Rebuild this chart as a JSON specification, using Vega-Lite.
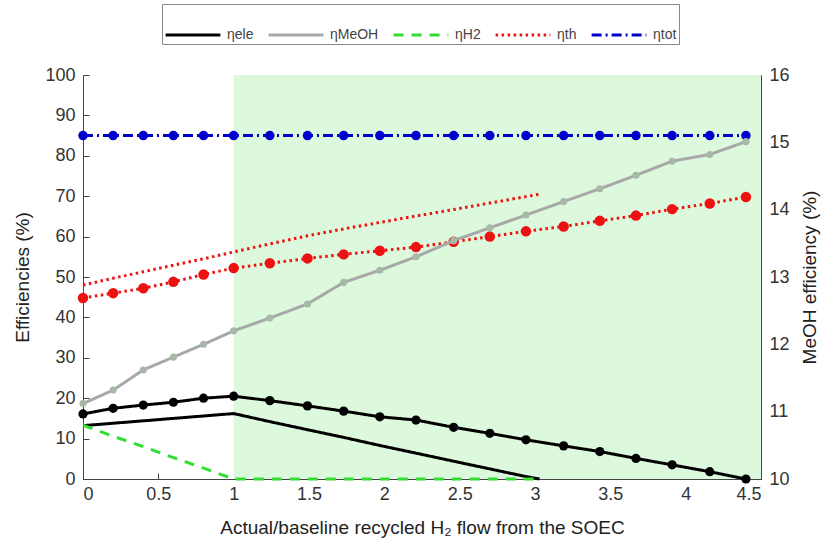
{
  "$schema": "https://vega.github.io/schema/vega-lite/v6.json",
  "width": 678,
  "height": 404,
  "autosize": {"type": "none"},
  "padding": {"left": 83, "top": 75, "right": 66, "bottom": 69},
  "background": "white",
  "config": {
    "view": {"stroke": null},
    "font": "Liberation Sans",
    "axis": {
      "grid": false,
      "labelFont": "Liberation Sans",
      "titleFont": "Liberation Sans",
      "labelFontSize": 18,
      "titleFontSize": 19,
      "titleFontWeight": "normal",
      "labelColor": "#333333",
      "titleColor": "#222222",
      "domainColor": "#444444",
      "tickColor": "#444444",
      "tickSize": -6,
      "labelPadding": 14
    },
    "legend": {
      "labelFont": "Liberation Sans",
      "labelFontSize": 14,
      "labelColor": "#444444"
    }
  },
  "datasets": {
    "left": [
      {"s": "ηele", "m": 1, "x": 0, "y": 16.1},
      {"s": "ηele", "m": 1, "x": 0.2, "y": 17.5},
      {"s": "ηele", "m": 1, "x": 0.4, "y": 18.3},
      {"s": "ηele", "m": 1, "x": 0.6, "y": 19.0},
      {"s": "ηele", "m": 1, "x": 0.8, "y": 20.0},
      {"s": "ηele", "m": 1, "x": 1, "y": 20.5},
      {"s": "ηele", "m": 1, "x": 1.24, "y": 19.4},
      {"s": "ηele", "m": 1, "x": 1.49, "y": 18.1},
      {"s": "ηele", "m": 1, "x": 1.73, "y": 16.8},
      {"s": "ηele", "m": 1, "x": 1.97, "y": 15.4},
      {"s": "ηele", "m": 1, "x": 2.21, "y": 14.6},
      {"s": "ηele", "m": 1, "x": 2.46, "y": 12.8},
      {"s": "ηele", "m": 1, "x": 2.7, "y": 11.3},
      {"s": "ηele", "m": 1, "x": 2.94, "y": 9.7},
      {"s": "ηele", "m": 1, "x": 3.19, "y": 8.2},
      {"s": "ηele", "m": 1, "x": 3.43, "y": 6.8},
      {"s": "ηele", "m": 1, "x": 3.67, "y": 5.1},
      {"s": "ηele", "m": 1, "x": 3.91, "y": 3.5},
      {"s": "ηele", "m": 1, "x": 4.16, "y": 1.8},
      {"s": "ηele", "m": 1, "x": 4.4, "y": 0},
      {"s": "ηele", "m": 0, "x": 0, "y": 13.2},
      {"s": "ηele", "m": 0, "x": 0.2, "y": 13.8},
      {"s": "ηele", "m": 0, "x": 0.4, "y": 14.4},
      {"s": "ηele", "m": 0, "x": 0.6, "y": 15.0},
      {"s": "ηele", "m": 0, "x": 0.8, "y": 15.6},
      {"s": "ηele", "m": 0, "x": 1, "y": 16.2},
      {"s": "ηele", "m": 0, "x": 1.24, "y": 14.2},
      {"s": "ηele", "m": 0, "x": 1.49, "y": 12.2},
      {"s": "ηele", "m": 0, "x": 1.73, "y": 10.3},
      {"s": "ηele", "m": 0, "x": 1.97, "y": 8.3},
      {"s": "ηele", "m": 0, "x": 2.21, "y": 6.4},
      {"s": "ηele", "m": 0, "x": 2.46, "y": 4.4},
      {"s": "ηele", "m": 0, "x": 2.7, "y": 2.5},
      {"s": "ηele", "m": 0, "x": 2.94, "y": 0.6},
      {"s": "ηele", "m": 0, "x": 3.03, "y": 0},
      {"s": "ηH2", "m": 0, "x": 0, "y": 13.3},
      {"s": "ηH2", "m": 0, "x": 0.2, "y": 10.6},
      {"s": "ηH2", "m": 0, "x": 0.4, "y": 8.0},
      {"s": "ηH2", "m": 0, "x": 0.6, "y": 5.3},
      {"s": "ηH2", "m": 0, "x": 0.8, "y": 2.7},
      {"s": "ηH2", "m": 0, "x": 1, "y": 0},
      {"s": "ηH2", "m": 0, "x": 1.24, "y": 0},
      {"s": "ηH2", "m": 0, "x": 1.49, "y": 0},
      {"s": "ηH2", "m": 0, "x": 1.73, "y": 0},
      {"s": "ηH2", "m": 0, "x": 1.97, "y": 0},
      {"s": "ηH2", "m": 0, "x": 2.21, "y": 0},
      {"s": "ηH2", "m": 0, "x": 2.46, "y": 0},
      {"s": "ηH2", "m": 0, "x": 2.7, "y": 0},
      {"s": "ηH2", "m": 0, "x": 2.94, "y": 0},
      {"s": "ηH2", "m": 0, "x": 3.03, "y": 0},
      {"s": "ηth", "m": 1, "x": 0, "y": 44.8},
      {"s": "ηth", "m": 1, "x": 0.2, "y": 46.0},
      {"s": "ηth", "m": 1, "x": 0.4, "y": 47.2},
      {"s": "ηth", "m": 1, "x": 0.6, "y": 48.8},
      {"s": "ηth", "m": 1, "x": 0.8, "y": 50.6},
      {"s": "ηth", "m": 1, "x": 1, "y": 52.2},
      {"s": "ηth", "m": 1, "x": 1.24, "y": 53.4},
      {"s": "ηth", "m": 1, "x": 1.49, "y": 54.6},
      {"s": "ηth", "m": 1, "x": 1.73, "y": 55.6},
      {"s": "ηth", "m": 1, "x": 1.97, "y": 56.5},
      {"s": "ηth", "m": 1, "x": 2.21, "y": 57.4},
      {"s": "ηth", "m": 1, "x": 2.46, "y": 58.7},
      {"s": "ηth", "m": 1, "x": 2.7, "y": 60.0},
      {"s": "ηth", "m": 1, "x": 2.94, "y": 61.3},
      {"s": "ηth", "m": 1, "x": 3.19, "y": 62.5},
      {"s": "ηth", "m": 1, "x": 3.43, "y": 63.9},
      {"s": "ηth", "m": 1, "x": 3.67, "y": 65.2},
      {"s": "ηth", "m": 1, "x": 3.91, "y": 66.8},
      {"s": "ηth", "m": 1, "x": 4.16, "y": 68.2},
      {"s": "ηth", "m": 1, "x": 4.4, "y": 69.8},
      {"s": "ηth", "m": 0, "x": 0, "y": 48.0},
      {"s": "ηth", "m": 0, "x": 0.2, "y": 49.7},
      {"s": "ηth", "m": 0, "x": 0.4, "y": 51.3},
      {"s": "ηth", "m": 0, "x": 0.6, "y": 52.9},
      {"s": "ηth", "m": 0, "x": 0.8, "y": 54.5},
      {"s": "ηth", "m": 0, "x": 1, "y": 56.2},
      {"s": "ηth", "m": 0, "x": 1.24, "y": 58.2},
      {"s": "ηth", "m": 0, "x": 1.49, "y": 60.2},
      {"s": "ηth", "m": 0, "x": 1.73, "y": 61.9},
      {"s": "ηth", "m": 0, "x": 1.97, "y": 63.5},
      {"s": "ηth", "m": 0, "x": 2.21, "y": 65.1},
      {"s": "ηth", "m": 0, "x": 2.46, "y": 66.7},
      {"s": "ηth", "m": 0, "x": 2.7, "y": 68.3},
      {"s": "ηth", "m": 0, "x": 2.94, "y": 69.9},
      {"s": "ηth", "m": 0, "x": 3.03, "y": 70.5},
      {"s": "ηtot", "m": 1, "x": 0, "y": 85},
      {"s": "ηtot", "m": 1, "x": 0.2, "y": 85},
      {"s": "ηtot", "m": 1, "x": 0.4, "y": 85},
      {"s": "ηtot", "m": 1, "x": 0.6, "y": 85},
      {"s": "ηtot", "m": 1, "x": 0.8, "y": 85},
      {"s": "ηtot", "m": 1, "x": 1, "y": 85},
      {"s": "ηtot", "m": 1, "x": 1.24, "y": 85},
      {"s": "ηtot", "m": 1, "x": 1.49, "y": 85},
      {"s": "ηtot", "m": 1, "x": 1.73, "y": 85},
      {"s": "ηtot", "m": 1, "x": 1.97, "y": 85},
      {"s": "ηtot", "m": 1, "x": 2.21, "y": 85},
      {"s": "ηtot", "m": 1, "x": 2.46, "y": 85},
      {"s": "ηtot", "m": 1, "x": 2.7, "y": 85},
      {"s": "ηtot", "m": 1, "x": 2.94, "y": 85},
      {"s": "ηtot", "m": 1, "x": 3.19, "y": 85},
      {"s": "ηtot", "m": 1, "x": 3.43, "y": 85},
      {"s": "ηtot", "m": 1, "x": 3.67, "y": 85},
      {"s": "ηtot", "m": 1, "x": 3.91, "y": 85},
      {"s": "ηtot", "m": 1, "x": 4.16, "y": 85},
      {"s": "ηtot", "m": 1, "x": 4.4, "y": 85}
    ],
    "meoh": [
      {"s": "ηMeOH", "x": 0, "y": 11.12},
      {"s": "ηMeOH", "x": 0.2, "y": 11.32},
      {"s": "ηMeOH", "x": 0.4, "y": 11.62},
      {"s": "ηMeOH", "x": 0.6, "y": 11.81},
      {"s": "ηMeOH", "x": 0.8, "y": 12.0},
      {"s": "ηMeOH", "x": 1, "y": 12.2},
      {"s": "ηMeOH", "x": 1.24, "y": 12.39},
      {"s": "ηMeOH", "x": 1.49, "y": 12.6},
      {"s": "ηMeOH", "x": 1.73, "y": 12.92},
      {"s": "ηMeOH", "x": 1.97, "y": 13.1},
      {"s": "ηMeOH", "x": 2.21, "y": 13.3},
      {"s": "ηMeOH", "x": 2.46, "y": 13.54},
      {"s": "ηMeOH", "x": 2.7, "y": 13.73},
      {"s": "ηMeOH", "x": 2.94, "y": 13.92},
      {"s": "ηMeOH", "x": 3.19, "y": 14.12},
      {"s": "ηMeOH", "x": 3.43, "y": 14.31},
      {"s": "ηMeOH", "x": 3.67, "y": 14.51},
      {"s": "ηMeOH", "x": 3.91, "y": 14.72},
      {"s": "ηMeOH", "x": 4.16, "y": 14.82},
      {"s": "ηMeOH", "x": 4.4, "y": 15.01}
    ]
  },
  "layer": [
    {
      "layer": [
        {
          "data": {"values": [{"x0": 1, "x1": 4.5}]},
          "mark": {"type": "rect", "color": "#ddf9dd"},
          "encoding": {
            "x": {"field": "x0", "type": "quantitative"},
            "x2": {"field": "x1"}
          }
        },
        {
          "data": {"name": "left"},
          "mark": {"type": "line", "strokeWidth": 3, "strokeCap": "butt"},
          "encoding": {
            "x": {
              "field": "x", "type": "quantitative",
              "scale": {"domain": [0, 4.5], "nice": false, "zero": false},
              "axis": {
                "values": [0, 0.5, 1, 1.5, 2, 2.5, 3, 3.5, 4, 4.5],
                "format": "~g",
                "labelPadding": 12,
                "title": "Actual/baseline recycled H₂ flow from the SOEC",
                "titlePadding": 15
              }
            },
            "y": {
              "field": "y", "type": "quantitative",
              "scale": {"domain": [0, 100], "nice": false},
              "axis": {
                "values": [0, 10, 20, 30, 40, 50, 60, 70, 80, 90, 100],
                "title": "Efficiencies (%)",
                "titlePadding": 12
              }
            },
            "color": {
              "field": "s", "type": "nominal",
              "scale": {
                "domain": ["ηele", "ηMeOH", "ηH2", "ηth", "ηtot"],
                "range": ["#000000", "#a8a8a8", "#33dd33", "#ee1111", "#0000cc"]
              },
              "legend": {
                "title": null,
                "orient": "none",
                "legendX": 79,
                "legendY": -71,
                "direction": "horizontal",
                "columns": 5,
                "symbolType": "stroke",
                "symbolSize": 3000,
                "symbolStrokeWidth": 3,
                "columnPadding": 8,
                "labelOffset": 5,
                "padding": 2,
                "strokeColor": "#888888",
                "fillColor": "white"
              }
            },
            "strokeDash": {
              "field": "s", "type": "nominal",
              "scale": {
                "domain": ["ηele", "ηMeOH", "ηH2", "ηth", "ηtot"],
                "range": [[1, 0], [1, 0], [10, 8], [2.5, 3.5], [10, 4, 2, 4]]
              },
              "legend": {
                "title": null,
                "orient": "none",
                "legendX": 79,
                "legendY": -71,
                "direction": "horizontal",
                "columns": 5,
                "symbolType": "stroke",
                "symbolSize": 3000,
                "symbolStrokeWidth": 3,
                "columnPadding": 8,
                "labelOffset": 5,
                "padding": 2,
                "strokeColor": "#888888",
                "fillColor": "white"
              }
            },
            "detail": {"field": "m", "type": "nominal"}
          }
        },
        {
          "data": {"name": "left"},
          "transform": [{"filter": "datum.m == 1 && datum.s == 'ηele'"}],
          "mark": {"type": "point", "filled": true, "size": 85, "color": "#000000", "opacity": 1},
          "encoding": {
            "x": {"field": "x", "type": "quantitative"},
            "y": {"field": "y", "type": "quantitative"}
          }
        },
        {
          "data": {"name": "left"},
          "transform": [{"filter": "datum.m == 1 && datum.s == 'ηth'"}],
          "mark": {"type": "point", "filled": true, "size": 110, "color": "#ee1111", "opacity": 1},
          "encoding": {
            "x": {"field": "x", "type": "quantitative"},
            "y": {"field": "y", "type": "quantitative"}
          }
        },
        {
          "data": {"name": "left"},
          "transform": [{"filter": "datum.m == 1 && datum.s == 'ηtot'"}],
          "mark": {"type": "point", "filled": true, "size": 90, "color": "#0000cc", "opacity": 1},
          "encoding": {
            "x": {"field": "x", "type": "quantitative"},
            "y": {"field": "y", "type": "quantitative"}
          }
        }
      ]
    },
    {
      "data": {"name": "meoh"},
      "layer": [
        {
          "mark": {"type": "line", "strokeWidth": 3},
          "encoding": {
            "x": {"field": "x", "type": "quantitative"},
            "y": {
              "field": "y", "type": "quantitative",
              "scale": {"domain": [10, 16], "nice": false, "zero": false},
              "axis": {
                "orient": "right",
                "values": [10, 11, 12, 13, 14, 15, 16],
                "format": "d",
                "title": "MeOH efficiency (%)",
                "titleAngle": 270,
                "titleBaseline": "top",
                "titlePadding": 11
              }
            },
            "color": {"field": "s", "type": "nominal"},
            "strokeDash": {"field": "s", "type": "nominal"}
          }
        },
        {
          "mark": {"type": "point", "filled": true, "size": 50, "color": "#a8b8a8", "opacity": 1},
          "encoding": {
            "x": {"field": "x", "type": "quantitative"},
            "y": {"field": "y", "type": "quantitative"}
          }
        }
      ]
    }
  ],
  "resolve": {"scale": {"y": "independent"}}
}
